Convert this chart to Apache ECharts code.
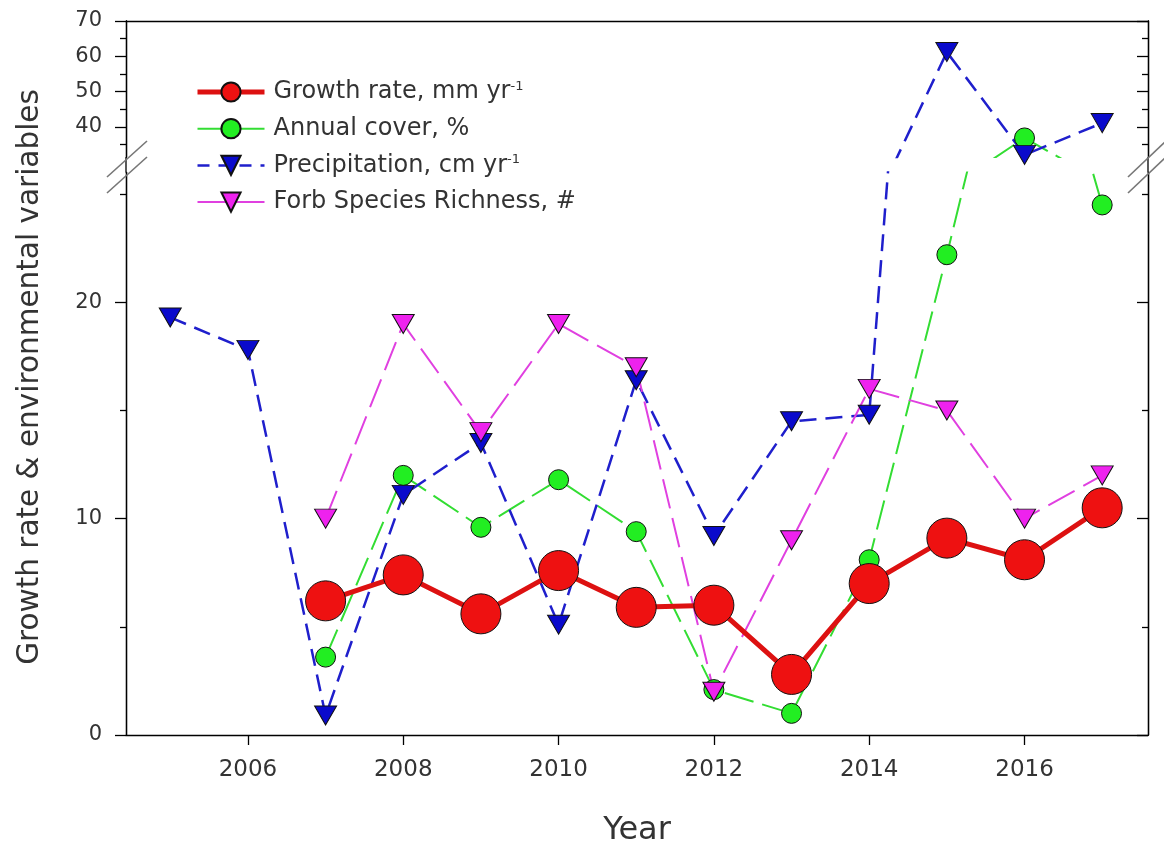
<!DOCTYPE html>
<html>
<head>
<meta charset="utf-8">
<script src="https://cdn.jsdelivr.net/npm/echarts@6/dist/echarts.min.js"></script>
<style>
  html, body { margin: 0; padding: 0; background: #fff; }
  #chart { width: 1164px; height: 852px; }
</style>
</head>
<body>
<div id="chart"></div>
<script>
// Yearly observations
const years = [2005, 2006, 2007, 2008, 2009, 2010, 2011, 2012, 2013, 2014, 2015, 2016, 2017];
const growthRate    = [null, null, 6.2, 7.4, 5.6, 7.6, 5.9, 6.0, 2.8, 7.0, 9.1, 8.1, 10.5];
const annualCover   = [null, null, 3.6, 12.0, 9.6, 11.8, 9.4, 2.1, 1.0, 8.1, 22.2, 36.9, 24.5];
const precipitation = [19.3, 17.8, 0.9, 11.1, 13.5, 5.1, 16.4, 9.2, 14.5, 14.8, 61.2, 32.1, 41.1];
const forbRichness  = [null, null, 10, 19, 14, 19, 17, 2, 9, 16, 15, 10, 12];

// Axis ticks (y axis is broken: lower 0–26, upper 31.5–70)
const xTicks = [2006, 2008, 2010, 2012, 2014, 2016];
const lowerMajor = [0, 10, 20];
const lowerMinor = [5, 15, 25];
const upperMajor = [40, 50, 60, 70];
const upperMinor = [35, 45, 55, 65];

const FONT = 'DejaVu Sans';
const TEXT = '#333';

const pairs = arr => years.map((y, i) => [y, arr[i]]);

const chart = echarts.init(document.getElementById('chart'), null, { renderer: 'canvas' });

function yAxisDef(gridIdx, min, max, ticks, pos, major, labels) {
  return {
    type: 'value', gridIndex: gridIdx, min: min, max: max, position: pos,
    splitLine: { show: false },
    axisLine: { show: true, onZero: false, lineStyle: { color: '#000', width: 1.3 } },
    axisTick: {
      show: true, customValues: ticks, inside: pos === 'right',
      length: major ? 11 : 6, lineStyle: { color: '#000', width: 1.3 }
    },
    axisLabel: labels ? {
      show: true, customValues: ticks, margin: 24,
      fontFamily: FONT, fontSize: 21, color: TEXT
    } : { show: false }
  };
}

const series = [];
const defs = [
  {
    name: 'Annual cover', data: annualCover, symbol: 'circle', size: 20, rotate: 0,
    fill: '#22ee22', line: { color: '#33dd33', width: 2, type: [30, 9] }
  },
  {
    name: 'Precipitation', data: precipitation, symbol: 'triangle', size: [22, 19], rotate: 180,
    fill: '#0a0acc', line: { color: '#1f1fcc', width: 2.5, type: [17, 9] }
  },
  {
    name: 'Forb', data: forbRichness, symbol: 'triangle', size: [22, 19], rotate: 180,
    fill: '#ee22ee', line: { color: '#e040e0', width: 2, type: [30, 10] }
  },
  {
    name: 'Growth', data: growthRate, symbol: 'circle', size: 40, rotate: 0,
    fill: '#ee1111', line: { color: '#dd1111', width: 5, type: 'solid' }
  }
];

defs.forEach(d => {
  [[0, 0], [1, 4]].forEach(([xi, yi]) => {
    series.push({
      type: 'line', name: d.name, xAxisIndex: xi, yAxisIndex: yi,
      data: pairs(d.data), clip: true, connectNulls: false,
      symbol: d.symbol, symbolSize: d.size, symbolRotate: d.rotate,
      showAllSymbol: true,
      lineStyle: d.line,
      itemStyle: { color: d.fill, borderColor: '#111', borderWidth: 1 },
      emphasis: { disabled: true },
      animation: false
    });
  });
});

const option = {
  backgroundColor: '#fff',
  animation: false,
  grid: [
    { left: 126, right: 16, top: 172.5, height: 565.5 },
    { left: 126, right: 16, top: 21, height: 136 }
  ],
  xAxis: [
    {
      type: 'value', gridIndex: 0, min: 2004.43, max: 2017.59, position: 'bottom',
      splitLine: { show: false },
      axisLine: { show: true, onZero: false, lineStyle: { color: '#000', width: 1.3 } },
      axisTick: { show: true, customValues: xTicks, length: 10, lineStyle: { color: '#000', width: 1.3 } },
      axisLabel: {
        show: true, customValues: xTicks, margin: 24, fontFamily: FONT, fontSize: 23, color: TEXT,
        formatter: v => String(v)
      },
      name: 'Year', nameLocation: 'middle', nameGap: 80,
      nameTextStyle: { fontFamily: FONT, fontSize: 32, color: TEXT }
    },
    {
      type: 'value', gridIndex: 1, min: 2004.43, max: 2017.59, position: 'top',
      splitLine: { show: false },
      axisLine: { show: true, onZero: false, lineStyle: { color: '#000', width: 1.3 } },
      axisTick: { show: false }, axisLabel: { show: false }
    }
  ],
  yAxis: [
    yAxisDef(0, 0, 26, lowerMajor, 'left', true, true),
    yAxisDef(0, 0, 26, lowerMinor, 'left', false, false),
    yAxisDef(0, 0, 26, lowerMajor, 'right', true, false),
    yAxisDef(0, 0, 26, lowerMinor, 'right', false, false),
    yAxisDef(1, 31.5, 70, upperMajor, 'left', true, true),
    yAxisDef(1, 31.5, 70, upperMinor, 'left', false, false),
    yAxisDef(1, 31.5, 70, upperMajor, 'right', true, false),
    yAxisDef(1, 31.5, 70, upperMinor, 'right', false, false)
  ],
  legend: {
    orient: 'vertical', left: 190, top: 75,
    itemWidth: 67, itemHeight: 24, itemGap: 12.7,
    selectedMode: false,
    data: [
      { name: 'Growth', lineStyle: { width: 5, type: 'solid' } },
      { name: 'Annual cover', lineStyle: { width: 2, type: 'solid' } },
      { name: 'Precipitation', lineStyle: { width: 2.5, type: [12, 9] } },
      { name: 'Forb', lineStyle: { width: 2, type: 'solid' } }
    ],
    formatter: function (n) {
      if (n === 'Growth') return '{n|Growth rate, mm yr}{s|-1}';
      if (n === 'Annual cover') return '{n|Annual cover, %}';
      if (n === 'Precipitation') return '{n|Precipitation, cm yr}{s|-1}';
      return '{n|Forb Species Richness, #}';
    },
    textStyle: {
      padding: [0, 0, 0, 4],
      rich: {
        n: { fontFamily: FONT, fontSize: 24, color: TEXT, lineHeight: 24 },
        s: { fontFamily: FONT, fontSize: 13, color: TEXT, verticalAlign: 'top', lineHeight: 12, padding: [0, 0, 10, 0] }
      }
    }
  },
  graphic: [
    // axis lines continue through the break
    { type: 'line', shape: { x1: 126, y1: 157, x2: 126, y2: 172.5 }, style: { stroke: '#000', lineWidth: 1.3 }, z: 50 },
    { type: 'line', shape: { x1: 1148, y1: 157, x2: 1148, y2: 172.5 }, style: { stroke: '#000', lineWidth: 1.3 }, z: 50 },
    // break marks
    { type: 'line', shape: { x1: 107, y1: 177, x2: 147, y2: 141 }, style: { stroke: '#777', lineWidth: 1.6 }, z: 60 },
    { type: 'line', shape: { x1: 107, y1: 193, x2: 147, y2: 157 }, style: { stroke: '#777', lineWidth: 1.6 }, z: 60 },
    { type: 'line', shape: { x1: 1128, y1: 177, x2: 1166, y2: 141 }, style: { stroke: '#777', lineWidth: 1.6 }, z: 60 },
    { type: 'line', shape: { x1: 1128, y1: 193, x2: 1166, y2: 157 }, style: { stroke: '#777', lineWidth: 1.6 }, z: 60 },
    {
      type: 'text', x: 30, y: 377, rotation: Math.PI / 2,
      style: {
        text: 'Growth rate & environmental variables', fontFamily: FONT, fontSize: 29.5,
        fill: TEXT, align: 'center', verticalAlign: 'middle'
      }
    }
  ],
  series: series
};

chart.setOption(option);
</script>
</body>
</html>
